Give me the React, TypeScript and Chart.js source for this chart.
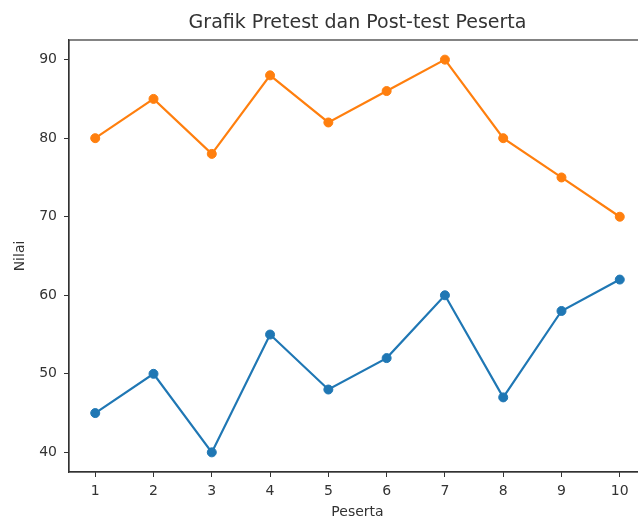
import React, { useEffect, useRef } from 'react';
import { Chart, registerables } from 'chart.js';

Chart.register(...registerables);

const participants = [1, 2, 3, 4, 5, 6, 7, 8, 9, 10];
const pretest = [45, 50, 40, 55, 48, 52, 60, 47, 58, 62];
const posttest = [80, 85, 78, 88, 82, 86, 90, 80, 75, 70];
const yTicks = [40, 50, 60, 70, 80, 90];

const TEXT = '#333333';
const FONT = 'DejaVu Sans';

const framePlugin = {
  id: 'frame',
  afterDatasetsDraw(chart: any) {
    const { ctx, chartArea: a } = chart;
    ctx.save();
    ctx.strokeStyle = '#333333';
    ctx.lineWidth = 1.2;
    ctx.strokeRect(a.left, a.top, a.right - a.left, a.bottom - a.top);
    ctx.restore();
  },
};

export default function App() {
  const ref = useRef<HTMLCanvasElement | null>(null);

  useEffect(() => {
    if (!ref.current) return;
    const chart = new Chart(ref.current, {
      type: 'line',
      data: {
        datasets: [
          {
            label: 'Pretest',
            data: participants.map((p, i) => ({ x: p, y: pretest[i] })),
            borderColor: '#1f77b4',
            backgroundColor: '#1f77b4',
            pointBackgroundColor: '#1f77b4',
            pointBorderColor: '#1f77b4',
            borderWidth: 2.2,
            pointRadius: 4.5,
            pointBorderWidth: 1,
            tension: 0,
          },
          {
            label: 'Post-test',
            data: participants.map((p, i) => ({ x: p, y: posttest[i] })),
            borderColor: '#ff7f0e',
            backgroundColor: '#ff7f0e',
            pointBackgroundColor: '#ff7f0e',
            pointBorderColor: '#ff7f0e',
            borderWidth: 2.2,
            pointRadius: 4.5,
            pointBorderWidth: 1,
            tension: 0,
          },
        ],
      },
      options: {
        responsive: false,
        animation: false,
        layout: { padding: { left: 0, top: 0, right: 14, bottom: 0 } },
        plugins: {
          legend: { display: false },
          tooltip: { enabled: false },
          title: {
            display: true,
            text: 'Grafik Pretest dan Post-test Peserta',
            fullSize: false,
            color: TEXT,
            font: { family: FONT, size: 19, weight: 'normal' },
            padding: { top: 12, bottom: 5.2 },
          },
        },
        scales: {
          x: {
            type: 'linear',
            min: 0.55,
            max: 10.45,
            afterBuildTicks: (scale: any) => {
              scale.ticks = participants.map((v) => ({ value: v }));
            },
            afterFit: (scale: any) => {
              scale.height = 50;
            },
            grid: {
              drawOnChartArea: false,
              drawTicks: true,
              tickLength: 5,
              color: '#333333',
              tickWidth: 1,
            },
            border: { display: true, color: '#333333', width: 1.2 },
            ticks: {
              color: TEXT,
              font: { family: FONT, size: 14 },
              padding: 6,
              maxRotation: 0,
              autoSkip: false,
              callback: (v: any) => String(v),
            },
            title: {
              display: true,
              text: 'Peserta',
              color: TEXT,
              font: { family: FONT, size: 14 },
              padding: { top: 0, bottom: 1 },
            },
          },
          y: {
            type: 'linear',
            min: 37.5,
            max: 92.5,
            afterBuildTicks: (scale: any) => {
              scale.ticks = yTicks.map((v) => ({ value: v }));
            },
            afterFit: (scale: any) => {
              scale.width = 69;
            },
            grid: {
              drawOnChartArea: false,
              drawTicks: true,
              tickLength: 5,
              color: '#333333',
              tickWidth: 1,
            },
            border: { display: true, color: '#333333', width: 1.2 },
            ticks: {
              color: TEXT,
              font: { family: FONT, size: 14 },
              padding: 7,
              autoSkip: false,
              callback: (v: any) => String(v),
            },
            title: {
              display: true,
              text: 'Nilai',
              color: TEXT,
              font: { family: FONT, size: 14 },
              padding: { top: 12, bottom: 0 },
            },
          },
        },
      },
      plugins: [framePlugin],
    } as any);
    return () => chart.destroy();
  }, []);

  return (
    <div
      style={{
        position: 'fixed',
        left: 0,
        top: 0,
        width: 638,
        height: 522,
        overflow: 'hidden',
        background: '#ffffff',
      }}
    >
      <canvas
        ref={ref}
        width={660}
        height={522}
        style={{ width: 660, height: 522, display: 'block' }}
      />
    </div>
  );
}
